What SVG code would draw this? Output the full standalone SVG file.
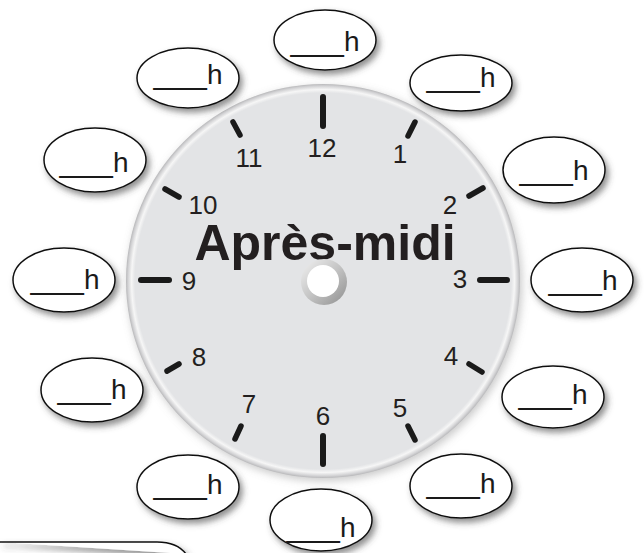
<svg xmlns="http://www.w3.org/2000/svg" width="644" height="553" viewBox="0 0 644 553">
<style>
.bub{fill:#fff;stroke:#111;stroke-width:1.5;filter:url(#sh)}
.bt{font-family:"Liberation Sans",Arial,sans-serif;font-size:28px;fill:#1a1a1a;text-anchor:middle}
.us{font-size:32px}
.num{font-family:"Liberation Sans",Arial,sans-serif;font-size:26px;fill:#231f20;text-anchor:middle}
.tk{stroke:#1a1a1a;stroke-width:6;stroke-linecap:round}
.tks{stroke:#1a1a1a;stroke-width:5.5;stroke-linecap:round}
</style>
<defs>
<filter id="sh" x="-30%" y="-30%" width="160%" height="170%">
<feDropShadow dx="3" dy="4" stdDeviation="3" flood-color="#444" flood-opacity="0.6"/>
</filter>
<filter id="csh" x="-10%" y="-10%" width="120%" height="120%">
<feDropShadow dx="2" dy="3" stdDeviation="4" flood-color="#888" flood-opacity="0.45"/>
</filter>
<radialGradient id="rim" cx="323" cy="281" r="197" gradientUnits="userSpaceOnUse">
<stop offset="0.955" stop-color="#e3e4e6"/>
<stop offset="0.972" stop-color="#f6f6f6"/>
<stop offset="0.99" stop-color="#d2d2d4"/>
<stop offset="1" stop-color="#b8b8ba"/>
</radialGradient>
<linearGradient id="hole" x1="0" y1="0" x2="1" y2="1">
<stop offset="0" stop-color="#f2f2f2"/>
<stop offset="0.5" stop-color="#c4c4c4"/>
<stop offset="1" stop-color="#8e8e8e"/>
</linearGradient>
</defs>
<rect width="644" height="553" fill="#fff"/>

<g id="clock">
<circle cx="323" cy="281" r="197" fill="url(#rim)" filter="url(#csh)"/>
<g id="ticks">
<line class="tk" x1="323" y1="97" x2="323" y2="126"/>
<line class="tk" x1="323" y1="436" x2="323" y2="464"/>
<line class="tk" x1="141" y1="280" x2="169" y2="280"/>
<line class="tk" x1="480" y1="280" x2="507" y2="280"/>
<line class="tks" x1="233" y1="122" x2="240" y2="135"/>
<line class="tks" x1="415" y1="122" x2="408" y2="136"/>
<line class="tks" x1="165" y1="189" x2="179" y2="197"/>
<line class="tks" x1="483" y1="188" x2="469" y2="196"/>
<line class="tks" x1="167" y1="371" x2="179" y2="364"/>
<line class="tks" x1="469" y1="364" x2="482" y2="372"/>
<line class="tks" x1="235" y1="439" x2="241" y2="426"/>
<line class="tks" x1="408" y1="426" x2="415" y2="440"/>
</g>
<g id="numbers">
<text class="num" x="322" y="157">12</text>
<text class="num" x="249" y="167">11</text>
<text class="num" x="400" y="163">1</text>
<text class="num" x="203" y="214">10</text>
<text class="num" x="450" y="214">2</text>
<text class="num" x="189" y="290">9</text>
<text class="num" x="460" y="288">3</text>
<text class="num" x="199" y="366">8</text>
<text class="num" x="451" y="365">4</text>
<text class="num" x="249" y="413">7</text>
<text class="num" x="400" y="417">5</text>
<text class="num" x="323" y="425">6</text>
</g>
<text x="325" y="260" font-family="'Liberation Sans',Arial,sans-serif" font-weight="bold" font-size="50" fill="#231f20" text-anchor="middle">Après-midi</text>
<g id="hub">
<circle cx="324" cy="282" r="23" fill="url(#hole)"/>
<circle cx="323" cy="281" r="16" fill="#fff"/>
</g>
</g>

<g id="b12"><ellipse class="bub" cx="325" cy="40" rx="51" ry="30"/><text class="bt" x="325" y="51"><tspan class="us">___</tspan>h</text></g>
<g id="b1"><ellipse class="bub" cx="461" cy="83" rx="51" ry="28"/><text class="bt" x="461" y="87"><tspan class="us">___</tspan>h</text></g>
<g id="b2"><ellipse class="bub" cx="554" cy="170" rx="51" ry="33"/><text class="bt" x="554" y="180"><tspan class="us">___</tspan>h</text></g>
<g id="b3"><ellipse class="bub" cx="582" cy="280" rx="51" ry="32"/><text class="bt" x="583" y="290"><tspan class="us">___</tspan>h</text></g>
<g id="b4"><ellipse class="bub" cx="553" cy="397" rx="51" ry="31"/><text class="bt" x="553" y="404"><tspan class="us">___</tspan>h</text></g>
<g id="b5"><ellipse class="bub" cx="461" cy="486" rx="51" ry="32"/><text class="bt" x="461" y="493"><tspan class="us">___</tspan>h</text></g>
<g id="b6"><ellipse class="bub" cx="321" cy="520" rx="51" ry="31"/><text class="bt" x="321" y="537"><tspan class="us">___</tspan>h</text></g>
<g id="b7"><ellipse class="bub" cx="188" cy="487" rx="51" ry="32"/><text class="bt" x="188" y="494"><tspan class="us">___</tspan>h</text></g>
<g id="b8"><ellipse class="bub" cx="92" cy="390" rx="51" ry="32"/><text class="bt" x="92" y="399"><tspan class="us">___</tspan>h</text></g>
<g id="b9"><ellipse class="bub" cx="64" cy="280" rx="51" ry="32"/><text class="bt" x="65" y="289"><tspan class="us">___</tspan>h</text></g>
<g id="b10"><ellipse class="bub" cx="95" cy="160" rx="51" ry="32"/><text class="bt" x="94" y="172"><tspan class="us">___</tspan>h</text></g>
<g id="b11"><ellipse class="bub" cx="188" cy="78" rx="51" ry="30"/><text class="bt" x="188" y="84"><tspan class="us">___</tspan>h</text></g>

<g id="box">
<path d="M0,542 H157 Q177,542 186,554" fill="#fff" stroke="#111" stroke-width="1.5" filter="url(#sh)"/>
</g>
<g id="connectors"/>
</svg>
